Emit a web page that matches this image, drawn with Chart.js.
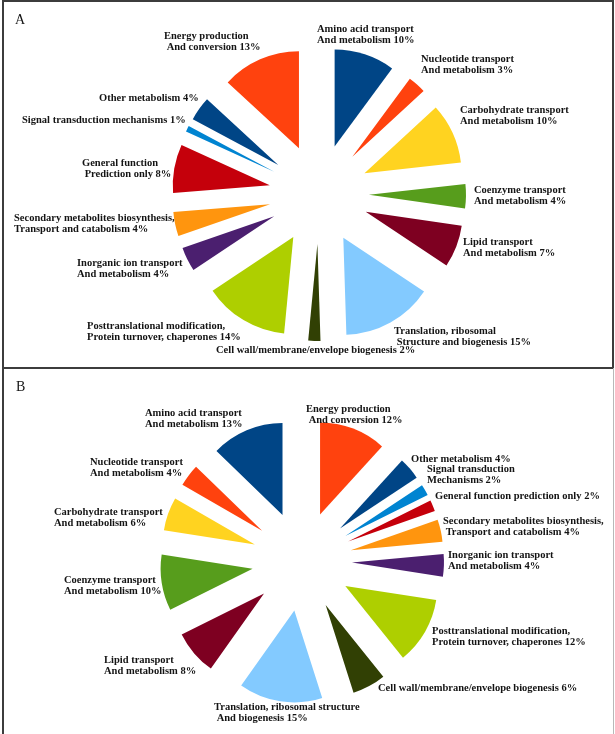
<!DOCTYPE html>
<html lang="en">

<head>
      <meta charset="UTF-8">
      <title>COG categories A / B</title>
      <script src="https://cdn.jsdelivr.net/npm/chart.js"></script>
      <style>
            body { margin: 0; background: #fff; }
            .page { position: relative; width: 615px; height: 734px; overflow: hidden; }
            .panel { position: absolute; box-sizing: border-box; }
            #panelA { left: 2px; top: 0; width: 612px; height: 369px; border: 2px solid #3c3c3c; }
            #panelB { left: 2px; top: 368px; width: 612px; height: 370px; border-left: 2px solid #3c3c3c; border-right: 1px solid #b8b8b8; }
            canvas { position: absolute; left: 0; }
            #chartA { top: 0; }
            #chartB { top: 369px; }
      </style>
</head>

<body>
      <div class="page">
            <div class="panel" id="panelA"></div>
            <div class="panel" id="panelB"></div>
            <canvas id="chartA" width="615" height="369"></canvas>
            <canvas id="chartB" width="615" height="365"></canvas>
      </div>

      <script>
            // panel A : categories clockwise from 12 o'clock
            const categoriesA = [
                  'Amino acid transport and metabolism',
                  'Nucleotide transport and metabolism',
                  'Carbohydrate transport and metabolism',
                  'Coenzyme transport and metabolism',
                  'Lipid transport and metabolism',
                  'Translation, ribosomal structure and biogenesis',
                  'Cell wall/membrane/envelope biogenesis',
                  'Posttranslational modification, protein turnover, chaperones',
                  'Inorganic ion transport and metabolism',
                  'Secondary metabolites biosynthesis, transport and catabolism',
                  'General function prediction only',
                  'Signal transduction mechanisms',
                  'Other metabolism',
                  'Energy production and conversion'
            ];
            const valuesA = [10, 3, 10, 4, 7, 15, 2, 14, 4, 4, 8, 1, 4, 13];
            const labelLinesA = [
                  ['Amino acid transport', 'And metabolism'],
                  ['Nucleotide transport', 'And metabolism'],
                  ['Carbohydrate transport', 'And metabolism'],
                  ['Coenzyme transport', 'And metabolism'],
                  ['Lipid transport', 'And metabolism'],
                  ['Translation, ribosomal', ' Structure and biogenesis'],
                  ['Cell wall/membrane/envelope biogenesis'],
                  ['Posttranslational modification,', 'Protein turnover, chaperones'],
                  ['Inorganic ion transport', 'And metabolism'],
                  ['Secondary metabolites biosynthesis,', 'Transport and catabolism'],
                  ['General function', ' Prediction only'],
                  ['Signal transduction mechanisms'],
                  ['Other metabolism'],
                  ['Energy production', ' And conversion']
            ];

            // panel B
            const categoriesB = [
                  'Energy production and conversion',
                  'Other metabolism',
                  'Signal transduction mechanisms',
                  'General function prediction only',
                  'Secondary metabolites biosynthesis, transport and catabolism',
                  'Inorganic ion transport and metabolism',
                  'Posttranslational modification, protein turnover, chaperones',
                  'Cell wall/membrane/envelope biogenesis',
                  'Translation, ribosomal structure and biogenesis',
                  'Lipid transport and metabolism',
                  'Coenzyme transport and metabolism',
                  'Carbohydrate transport and metabolism',
                  'Nucleotide transport and metabolism',
                  'Amino acid transport and metabolism'
            ];
            const valuesB = [12, 4, 2, 2, 4, 4, 12, 6, 15, 8, 10, 6, 4, 13];
            const labelLinesB = [
                  ['Energy production', ' And conversion'],
                  ['Other metabolism'],
                  ['Signal transduction', 'Mechanisms'],
                  ['General function prediction only'],
                  ['Secondary metabolites biosynthesis,', ' Transport and catabolism'],
                  ['Inorganic ion transport', 'And metabolism'],
                  ['Posttranslational modification,', 'Protein turnover, chaperones'],
                  ['Cell wall/membrane/envelope biogenesis'],
                  ['Translation, ribosomal structure', ' And biogenesis'],
                  ['Lipid transport', 'And metabolism'],
                  ['Coenzyme transport', 'And metabolism'],
                  ['Carbohydrate transport', 'And metabolism'],
                  ['Nucleotide transport', 'And metabolism'],
                  ['Amino acid transport', 'And metabolism']
            ];

            // colours (office palette) and label anchors, kept apart from the data
            const colorsA = ['#004586', '#ff420e', '#ffd320', '#579d1c', '#7e0021', '#83caff', '#314004',
                  '#aecf00', '#4b1f6f', '#ff950e', '#c5000b', '#0084d1', '#004586', '#ff420e'];
            const colorsB = ['#ff420e', '#004586', '#0084d1', '#c5000b', '#ff950e', '#4b1f6f', '#aecf00',
                  '#314004', '#83caff', '#7e0021', '#579d1c', '#ffd320', '#ff420e', '#004586'];
            const labelPosA = [[317, 29], [421, 59], [460, 110], [474, 190], [463, 242], [394, 331], [216, 350],
                  [87, 326], [77, 263], [14, 218], [82, 163], [22, 120], [99, 98], [164, 36]];
            const labelPosB = [[306, 40], [411, 90], [427, 100], [435, 127], [443, 152], [448, 186], [432, 262],
                  [378, 319], [214, 338], [104, 291], [64, 211], [54, 143], [90, 93], [145, 44]];

            // pulls every slice out along its own middle angle
            const explodePlugin = {
                  id: 'explode',
                  beforeDatasetsDraw(chart, args, opts) {
                        const a = chart.chartArea;
                        const cx = (a.left + a.right) / 2;
                        const cy = (a.top + a.bottom) / 2;
                        chart.getDatasetMeta(0).data.forEach(function (arc) {
                              const mid = (arc.startAngle + arc.endAngle) / 2;
                              arc.x = cx + Math.cos(mid) * opts.distance;
                              arc.y = cy + Math.sin(mid) * opts.distance;
                        });
                  }
            };

            // category texts next to the slices + panel letter
            const labelPlugin = {
                  id: 'sliceLabels',
                  afterDraw(chart, args, opts) {
                        const ctx = chart.ctx;
                        const values = chart.data.datasets[0].data;
                        ctx.save();
                        ctx.fillStyle = '#141414';
                        ctx.textBaseline = 'middle';
                        ctx.textAlign = 'left';
                        ctx.font = 'bold 10.5px "Liberation Serif", "Times New Roman", serif';
                        opts.lines.forEach(function (lines, i) {
                              const p = opts.pos[i];
                              lines.forEach(function (txt, j) {
                                    if (j === lines.length - 1) txt += ' ' + values[i] + '%';
                                    ctx.fillText(txt, p[0], p[1] + j * 11.5);
                              });
                        });
                        ctx.font = '14px "Liberation Serif", "Times New Roman", serif';
                        ctx.fillText(opts.tag, opts.tagPos[0], opts.tagPos[1]);
                        ctx.restore();
                  }
            };

            function makePie(id, cats, vals, colors, lines, pos, tag, tagPos, radius, padding) {
                  return new Chart(document.getElementById(id), {
                        type: 'pie',
                        data: {
                              labels: cats,
                              datasets: [{
                                    data: vals,
                                    backgroundColor: colors,
                                    borderWidth: 0
                              }]
                        },
                        options: {
                              responsive: false,
                              animation: false,
                              events: [],
                              radius: radius,
                              layout: { padding: padding },
                              plugins: {
                                    legend: { display: false },
                                    tooltip: { enabled: false },
                                    explode: { distance: 50 },
                                    sliceLabels: { lines: lines, pos: pos, tag: tag, tagPos: tagPos }
                              }
                        },
                        plugins: [explodePlugin, labelPlugin]
                  });
            }

            window.onload = function () {
                  makePie('chartA', categoriesA, valuesA, colorsA, labelLinesA, labelPosA, 'A', [15, 20], 97,
                        { left: 23, top: 19, right: 0, bottom: 0 });
                  makePie('chartB', categoriesB, valuesB, colorsB, labelLinesB, labelPosB, 'B', [16, 18], 92,
                        { left: 0, top: 19, right: 11, bottom: 0 });
            };
      </script>
</body>

</html>
